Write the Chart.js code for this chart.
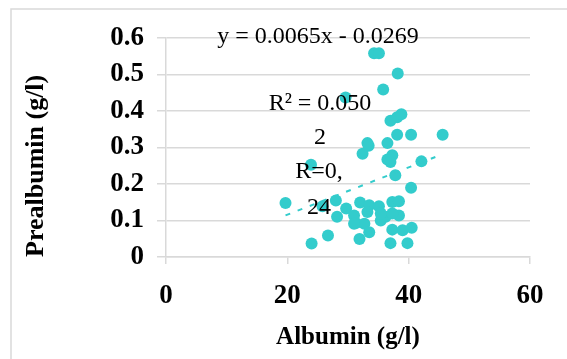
<!DOCTYPE html>
<html>
<head>
<meta charset="utf-8">
<script src="https://cdn.jsdelivr.net/npm/chart.js@4.4.1/dist/chart.umd.min.js"></script>
<style>
  html, body { margin: 0; padding: 0; background: #fff; }
  #kutu { width: 567px; height: 359px; }
</style>
</head>
<body>
<div id="kutu"><canvas id="grafik" width="567" height="359"></canvas></div>
<script>
// Albumin (g/l) values
const albumin = [
  34.3, 35.1, 38.2, 35.8, 29.6, 37.0, 38.1, 38.8, 38.1, 40.4,
  45.6, 33.2, 36.5, 32.4, 33.4, 36.5, 37.3, 37.0, 42.1, 23.9,
  37.8, 40.4, 19.7, 28.0, 29.7, 28.2, 25.8, 26.7, 24.0, 32.0,
  33.5, 33.2, 35.1, 37.3, 38.4, 38.4, 36.2, 35.4, 31.3, 32.7,
  33.5, 31.9, 37.3, 39.0, 40.5, 37.0, 39.8, 35.4, 37.3, 31.0,
  31.0
];
// Prealbumin (g/l) values, same order
const prealbumin = [
  0.558, 0.558, 0.503, 0.459, 0.437, 0.373, 0.383, 0.391, 0.335, 0.335,
  0.335, 0.312, 0.312, 0.283, 0.305, 0.267, 0.279, 0.260, 0.262, 0.253,
  0.224, 0.190, 0.148, 0.155, 0.133, 0.110, 0.139, 0.059, 0.037, 0.149,
  0.142, 0.123, 0.139, 0.151, 0.153, 0.114, 0.110, 0.100, 0.093, 0.091,
  0.068, 0.049, 0.075, 0.073, 0.080, 0.038, 0.038, 0.119, 0.119, 0.114,
  0.091
];

// trend line ends as drawn
const trendX = [19.7, 44.4];
const trendY = [0.114, 0.274];

const xTicks = [0, 20, 40, 60];
const yTicks = [0, 0.1, 0.2, 0.3, 0.4, 0.5, 0.6];

const etiketler = ["y = 0.0065x - 0.0269", "R² = 0.050", "2", "R=0,", "24"];

const TEAL = "#33CCCC";
const GRI = "#d9d9d9";
const SERIF = "'Liberation Serif', 'Times New Roman', serif";

const noktalar = albumin.map((a, i) => ({ x: a, y: prealbumin[i] }));
const trend = trendX.map((a, i) => ({ x: a, y: trendY[i] }));

// white background + thin frame
const cerceve = {
  id: "cerceve",
  beforeDraw(chart) {
    const ctx = chart.ctx;
    ctx.save();
    ctx.fillStyle = "#fff";
    ctx.fillRect(0, 0, chart.width, chart.height);
    ctx.strokeStyle = GRI;
    ctx.lineWidth = 1.5;
    ctx.strokeRect(11, 9, chart.width + 20, chart.height + 20);
    ctx.restore();
  }
};

// equation and R labels, on top of the markers
const yazilar = {
  id: "yazilar",
  afterDatasetsDraw(chart) {
    const ctx = chart.ctx;
    const yer = [[318, 37], [320, 104], [320, 138], [319, 172], [319, 208]];
    ctx.save();
    ctx.fillStyle = "#000";
    ctx.font = "24px " + SERIF;
    ctx.textAlign = "center";
    ctx.textBaseline = "middle";
    etiketler.forEach((t, i) => ctx.fillText(t, yer[i][0], yer[i][1]));
    ctx.restore();
  }
};

new Chart(document.getElementById("grafik"), {
  type: "scatter",
  data: {
    datasets: [
      {
        label: "trend",
        data: trend,
        showLine: true,
        borderColor: TEAL,
        borderWidth: 2,
        borderDash: [5, 8],
        pointRadius: 0,
        order: 0
      },
      {
        label: "Prealbumin",
        data: noktalar,
        backgroundColor: TEAL,
        borderColor: TEAL,
        borderWidth: 0,
        pointRadius: 6,
        order: 1
      }
    ]
  },
  options: {
    responsive: false,
    animation: false,
    layout: { padding: { left: 0, top: 38, right: 37, bottom: 0 } },
    plugins: {
      legend: { display: false },
      tooltip: { enabled: false }
    },
    scales: {
      x: {
        type: "linear",
        min: 0,
        max: 60,
        afterBuildTicks: s => { s.ticks = xTicks.map(v => ({ value: v })); },
        afterFit: s => { s.height = 102; },
        grid: {
          display: true,
          drawOnChartArea: false,
          drawTicks: true,
          tickLength: 7,
          color: GRI,
          lineWidth: 1.5
        },
        border: { display: true, color: GRI, width: 1.5 },
        ticks: {
          color: "#000",
          padding: 16,
          font: { family: SERIF, size: 27, weight: "bold" }
        },
        title: {
          display: true,
          text: "Albumin (g/l)",
          color: "#000",
          padding: { top: 0, bottom: 6 },
          font: { family: SERIF, size: 25, weight: "bold" }
        }
      },
      y: {
        type: "linear",
        min: 0,
        max: 0.6,
        afterBuildTicks: s => { s.ticks = yTicks.map(v => ({ value: v })); },
        afterFit: s => { s.width = 166; },
        grid: {
          color: GRI,
          lineWidth: 1.5,
          tickLength: 9
        },
        border: { display: true, color: GRI, width: 1.5 },
        ticks: {
          color: "#000",
          padding: 13,
          callback: v => String(Math.round(v * 10) / 10),
          font: { family: SERIF, size: 27, weight: "bold" }
        },
        title: {
          display: true,
          text: "Prealbumin (g/l)",
          align: "start",
          color: "#000",
          padding: { top: 21, bottom: 0 },
          font: { family: SERIF, size: 26, weight: "bold" }
        }
      }
    }
  },
  plugins: [cerceve, yazilar]
});
</script>
</body>
</html>
